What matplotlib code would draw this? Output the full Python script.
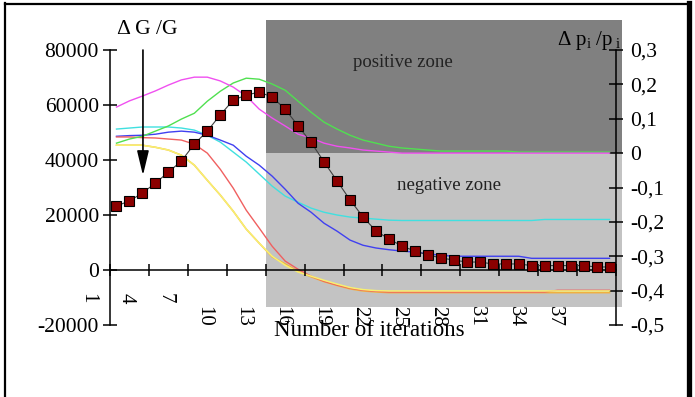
import matplotlib
matplotlib.use("Agg")
import matplotlib.pyplot as plt
from matplotlib.patches import Rectangle
from matplotlib.lines import Line2D

plt.rcParams["font.family"] = ["Liberation Serif", "DejaVu Serif"]
plt.rcParams["mathtext.fontset"] = "custom"
plt.rcParams["mathtext.rm"] = "Liberation Serif"
plt.rcParams["mathtext.it"] = "Liberation Serif:italic"

# --- dati -------------------------------------------------------------------
iterations = list(range(1, 40))

# Delta G / G (asse sinistro)
delta_g = [23300, 25100, 28000, 31600, 35600, 39600, 45800, 50500, 56400, 61800,
           63600, 64700, 62900, 58500, 52400, 46400, 39300, 32400, 25500, 19300,
           14200, 11300, 8700, 6900, 5500, 4400, 3600, 2900, 2900, 2200,
           2200, 2200, 1600, 1600, 1600, 1600, 1600, 1100, 1100]

# Delta p_i / p_i (asse destro), una curva per parametro
p_magenta = [0.134, 0.152, 0.166, 0.181, 0.198, 0.213, 0.221, 0.221, 0.210, 0.192,
             0.166, 0.128, 0.102, 0.079, 0.055, 0.044, 0.029, 0.020, 0.015, 0.009,
             0.006, 0.003] + [0.0] * 17
p_green = [0.029, 0.041, 0.049, 0.064, 0.079, 0.099, 0.116, 0.151, 0.180, 0.204,
           0.218, 0.215, 0.201, 0.183, 0.151, 0.119, 0.090, 0.070, 0.052, 0.038,
           0.029, 0.020, 0.015, 0.012, 0.009] + [0.006] * 6 + [0.003] * 8
p_cyan = [0.070, 0.073, 0.076, 0.076, 0.076, 0.073, 0.067, 0.052, 0.032, 0.003,
          -0.026, -0.061, -0.096, -0.125, -0.143, -0.160, -0.172, -0.180, -0.186, -0.189,
          -0.192, -0.195] + [-0.196] * 11 + [-0.193] * 6
p_blue = [0.049, 0.051, 0.052, 0.055, 0.061, 0.064, 0.061, 0.052, 0.038, 0.023,
          -0.009, -0.035, -0.067, -0.105, -0.146, -0.172, -0.204, -0.227, -0.253, -0.268,
          -0.276, -0.281, -0.285, -0.288, -0.293, -0.297] + [-0.300] * 6 + [-0.306] * 7
p_red = [0.047, 0.047, 0.045, 0.044, 0.041, 0.038, 0.026, 0.0, -0.047, -0.102,
         -0.166, -0.218, -0.271, -0.314, -0.338, -0.358, -0.373, -0.384, -0.393, -0.399,
         -0.402] + [-0.404] * 13 + [-0.399] * 5
p_yellow = [0.023, 0.023, 0.023, 0.017, 0.009, -0.006, -0.035, -0.079, -0.122, -0.169,
            -0.221, -0.262, -0.300, -0.326, -0.346, -0.358, -0.370, -0.381, -0.391, -0.397,
            -0.400] + [-0.401] * 18
p_orange = [0.023, 0.023, 0.023, 0.017, 0.009, -0.006, -0.035, -0.079, -0.122, -0.169,
            -0.221, -0.262, -0.302, -0.322, -0.344, -0.360, -0.374, -0.385, -0.395, -0.401,
            -0.404] + [-0.406] * 18

curves = [(p_orange, "#f0b040", 1.1), (p_cyan, "#40e0e0", 1.0), (p_blue, "#4040f0", 1.0),
          (p_red, "#f06060", 1.0), (p_yellow, "#f8f070", 1.1), (p_green, "#50e050", 1.0),
          (p_magenta, "#f050f0", 1.0)]

left_ticks = [-20000, 0, 20000, 40000, 60000, 80000]
left_labels = ["-20000", "0", "20000", "40000", "60000", "80000"]
right_ticks = [-0.5, -0.4, -0.3, -0.2, -0.1, 0.0, 0.1, 0.2, 0.3]
right_labels = ["-0,5", "-0,4", "-0,3", "-0,2", "-0,1", "0", "0,1", "0,2", "0,3"]
x_labels = [1, 4, 7, 10, 13, 16, 19, 22, 25, 28, 31, 34, 37]

W, H = 695, 397
fig = plt.figure(figsize=(W / 100, H / 100), dpi=100)
ax = fig.add_axes([110 / W, 1 - 325 / H, (616 - 110) / W, 275 / H])
ax2 = ax.twinx()
ax.set_zorder(2); ax2.set_zorder(1); ax.patch.set_visible(False)

ax.set_xlim(0.5, 39.5)
ax.set_ylim(-20000, 80000)
ax2.set_ylim(-0.5, 0.3)

# zone positiva / negativa
ax2.add_patch(Rectangle((12.5, 0), 27.5, 0.388, fc="#808080", ec="none",
                        zorder=0, clip_on=False))
ax2.add_patch(Rectangle((12.5, -0.447), 27.5, 0.447, fc="#c3c3c3", ec="none",
                        zorder=0, clip_on=False))
ax2.text(23.1, 0.265, "positive zone", fontsize=13.5, color="#222222",
         ha="center", va="center")
ax2.text(26.6, -0.093, "negative zone", fontsize=13.5, color="#222222",
         ha="center", va="center")

for vals, col, lw in curves:
    ax2.plot(iterations, vals, color=col, lw=lw, zorder=2)

ax.plot(iterations, delta_g, color="#404040", lw=0.8, marker="s", ms=7.5,
        mfc="#8b0000", mec="black", mew=0.8, zorder=3)

# assi
for s in ["top", "right"]:
    ax.spines[s].set_visible(False)
ax.spines["bottom"].set_position(("data", 0))
for s in ["top", "left", "bottom"]:
    ax2.spines[s].set_visible(False)
for sp in [ax.spines["left"], ax.spines["bottom"], ax2.spines["right"]]:
    sp.set_linewidth(1.1)

ax.set_yticks(left_ticks)
ax.set_yticklabels(left_labels)
ax2.set_yticks(right_ticks)
ax2.set_yticklabels(right_labels)
ax.set_xticks([0.5 + 3 * k for k in range(14)])
ax.set_xticklabels([])
ax.tick_params(axis="y", direction="inout", length=10, width=1.1, labelsize=15.5, pad=3)
ax2.tick_params(axis="y", direction="inout", length=10, width=1.1, labelsize=15.5, pad=5)
ax.tick_params(axis="x", direction="inout", length=9, width=1.1)

tr = ax.get_xaxis_transform()
for n in x_labels:
    ytop = 0.115 if n < 10 else 0.069
    ax.text(n - 2.25, ytop, str(n), transform=tr, rotation=270, fontsize=15,
            ha="center", va="top", clip_on=False)

ax.annotate("", xy=(3.04, 33400), xytext=(3.04, 81000), annotation_clip=False,
            arrowprops=dict(arrowstyle="-|>,head_length=0.75,head_width=0.18",
                            color="black", lw=1.2, mutation_scale=20))

fig.text(117 / W, 1 - 30 / H, "Δ G /G", fontsize=15.5, ha="left", va="center")
fig.text(621 / W, 1 - 40 / H, r"$\mathrm{Δ\ p_i\ /p_{\ i}}$", fontsize=15,
         ha="right", va="center")
fig.text(369 / W, 1 - 331 / H, "Number of iterations", fontsize=16.5,
         ha="center", va="center")

# cornice
fig.add_artist(Line2D([4.5 / W, 4.5 / W], [0, 1 - 3 / H], color="black", lw=1.6))
fig.add_artist(Line2D([4.5 / W, 689 / W], [1 - 3.5 / H, 1 - 3.5 / H], color="black", lw=1.6))
fig.add_artist(Line2D([689 / W, 689 / W], [0, 1 - 3 / H], color="black", lw=3.8))

fig.savefig("out.png", dpi=100)
